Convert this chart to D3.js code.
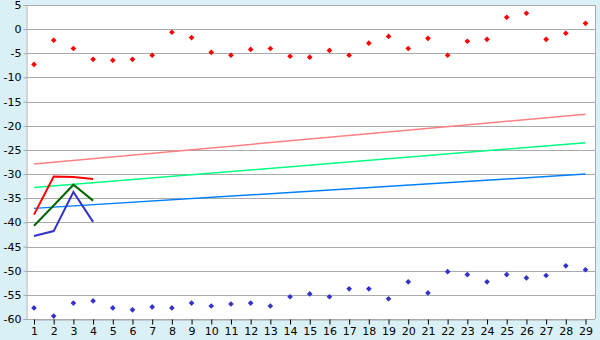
<!DOCTYPE html>
<html>
<head>
<meta charset="utf-8">
<script src="https://cdn.jsdelivr.net/npm/d3@7"></script>
<style>
  body { margin: 0; background: #daf0f7; }
  svg { display: block; }
  .tick text { font-family: "DejaVu Sans", sans-serif; font-size: 11px; fill: #000; }
</style>
</head>
<body>
<div id="my_dataviz"></div>
<script>
var days = d3.range(1, 30);
var yTicks = [5, 0, -5, -10, -15, -20, -25, -30, -35, -40, -45, -50, -55, -60];

var redPts = [-7.3, -2.3, -4.0, -6.25, -6.45, -6.25, -5.4, -0.65, -1.75, -4.8,
  -5.4, -4.2, -4.0, -5.6, -5.8, -4.4, -5.4, -2.9, -1.5, -4.0,
  -1.9, -5.4, -2.5, -2.1, 2.45, 3.3, -2.1, -0.85, 1.2];
var bluePts = [-57.7, -59.4, -56.7, -56.25, -57.7, -58.1, -57.5, -57.7, -56.7, -57.3,
  -56.9, -56.7, -57.3, -55.4, -54.8, -55.4, -53.75, -53.75, -55.8, -52.3,
  -54.6, -50.2, -50.8, -52.3, -50.8, -51.5, -51.0, -49.0, -49.8];

// trend lines: [start at day 1, end at day 29]
var pinkTrend = [-27.9, -17.6];
var greenTrend = [-32.8, -23.5];
var blueTrend = [-37.1, -30.0];

// short series, days 1..4
var redShort = [-38.4, -30.5, -30.6, -31.0];
var greenShort = [-40.7, -36.5, -32.2, -35.5];
var blueShort = [-42.8, -41.8, -33.7, -39.9];

var W = 600, H = 340;
var plotL = 26, plotR = 595, plotT = 5, plotB = 319;

var svg = d3.select("#my_dataviz")
  .append("svg")
    .attr("width", W)
    .attr("height", H);

var x = d3.scalePoint()
  .domain(days)
  .range([34, 585.5]);

var y = d3.scaleLinear()
  .domain([-60, 5])
  .range([plotB, plotT]);

svg.append("rect")
  .attr("x", plotL).attr("y", plotT)
  .attr("width", plotR - plotL).attr("height", plotB - plotT)
  .attr("fill", "#fff");

// gridlines
svg.append("g")
  .selectAll("line")
  .data(yTicks)
  .enter()
  .append("line")
    .attr("x1", plotL).attr("x2", plotR)
    .attr("y1", function(d) { return Math.round(y(d)) + 0.5; })
    .attr("y2", function(d) { return Math.round(y(d)) + 0.5; })
    .attr("stroke", "#aaa");

svg.append("line")
  .attr("x1", plotR + 0.5).attr("x2", plotR + 0.5)
  .attr("y1", plotT).attr("y2", plotB)
  .attr("stroke", "#aaa");

// Y axis
svg.append("g")
  .attr("transform", "translate(" + (plotL + 0.5) + ",0)")
  .call(d3.axisLeft(y).tickValues(yTicks).tickSize(3).tickPadding(2)
    .tickFormat(function(d) { return String(d); }))
  .call(function(g) {
    g.selectAll("line, path").attr("stroke", "#aaa");
  });

// X axis
svg.append("g")
  .attr("transform", "translate(0," + (plotB + 0.5) + ")")
  .call(d3.axisBottom(x).tickSize(5).tickPadding(3).tickSizeOuter(0))
  .call(function(g) {
    g.select(".domain").attr("stroke", "#aaa");
    g.selectAll(".tick line").attr("stroke", "#000");
  });

// trend lines
var trends = [[pinkTrend, "#ff8080"], [greenTrend, "#00ff80"], [blueTrend, "#0080ff"]];
svg.append("g")
  .selectAll("line")
  .data(trends)
  .enter()
  .append("line")
    .attr("x1", x(1)).attr("x2", x(29))
    .attr("y1", function(d) { return y(d[0][0]); })
    .attr("y2", function(d) { return y(d[0][1]); })
    .attr("stroke", function(d) { return d[1]; })
    .attr("stroke-width", 1.5);

// short series
var line = d3.line()
  .x(function(d, i) { return x(days[i]); })
  .y(function(d) { return y(d); });

var shorts = [[redShort, "#ff0000"], [greenShort, "#006600"], [blueShort, "#3333cc"]];
svg.append("g")
  .selectAll("path")
  .data(shorts)
  .enter()
  .append("path")
    .attr("d", function(d) { return line(d[0]); })
    .attr("fill", "none")
    .attr("stroke", function(d) { return d[1]; })
    .attr("stroke-width", 2);

// point series
var marker = d3.symbol().type(d3.symbolSquare).size(16);
function dots(data, color) {
  svg.append("g")
    .selectAll("path")
    .data(data)
    .enter()
    .append("path")
      .attr("d", marker)
      .attr("transform", function(d, i) { return "translate(" + x(days[i]) + "," + y(d) + ") rotate(45)"; })
      .attr("fill", color);
}
dots(redPts, "#ff0000");
dots(bluePts, "#3333cc");
</script>
</body>
</html>
